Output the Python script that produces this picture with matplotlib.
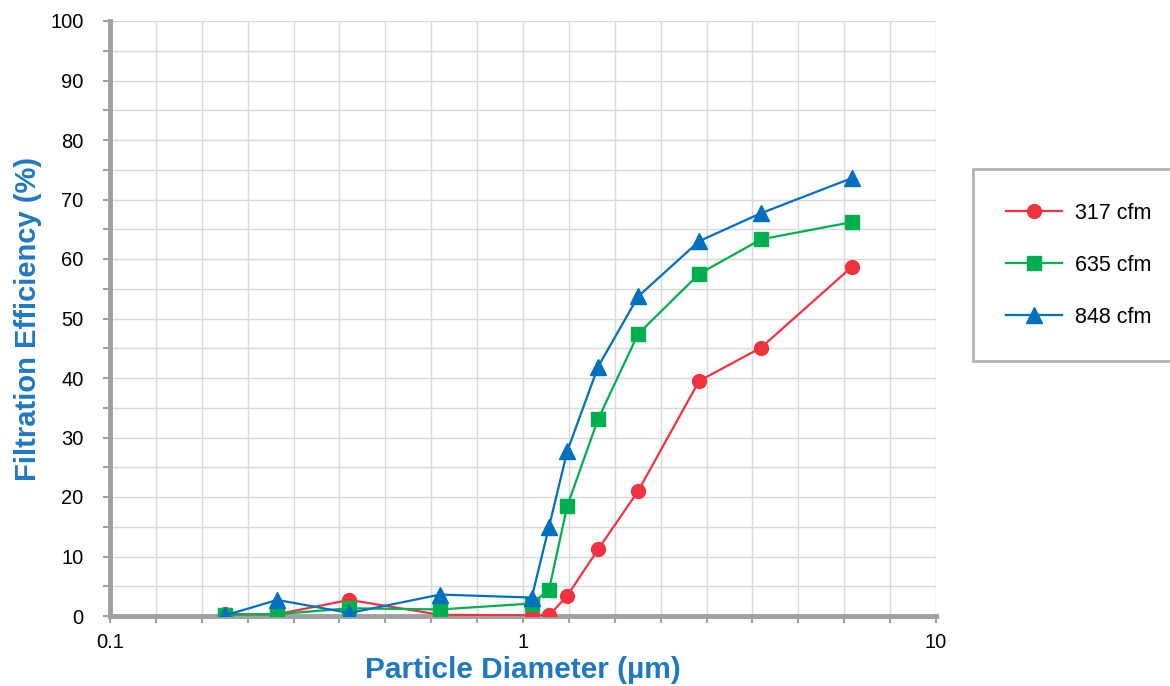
import matplotlib.pyplot as plt
from matplotlib.ticker import FixedLocator, NullFormatter, FixedFormatter

plt.rcParams['font.family'] = ['Liberation Sans', 'DejaVu Sans']

# particle diameter bins (um)
diameter = [0.19, 0.254, 0.38, 0.63, 1.05, 1.156, 1.28, 1.52, 1.90, 2.67, 3.77, 6.26]

# filtration efficiency (%) for each flow rate
eff_317 = [0.3, 0.3, 2.7, 0.2, 0.1, 0.1, 3.4, 11.2, 21.0, 39.5, 45.1, 58.7]
eff_635 = [0.2, 0.3, 1.3, 1.1, 2.1, 4.4, 18.5, 33.1, 47.4, 57.5, 63.3, 66.2]
eff_848 = [0.1, 2.7, 0.5, 3.6, 3.1, 15.0, 27.7, 41.9, 53.7, 63.0, 67.7, 73.6]

fig = plt.figure(figsize=(11.7, 6.86), dpi=100)
ax = fig.add_axes([110 / 1170, 70 / 686, 826 / 1170, 595 / 686])

ax.plot(diameter, eff_317, '-o', color='#F2333F', lw=1.6, ms=10, label='317 cfm', zorder=3)
ax.plot(diameter, eff_635, '-s', color='#00B050', lw=1.6, ms=10, label='635 cfm', zorder=3)
ax.plot(diameter, eff_848, '-^', color='#0070C0', lw=1.6, ms=11, label='848 cfm', zorder=4)

ax.set_xscale('log')
ax.set_xlim(0.1, 10)
ax.set_ylim(0, 100)

# minor gridlines evenly spaced in log space (9 per decade), like the original
minors = [10 ** (-1 + k / 9) for k in range(1, 18) if k != 9]
ax.xaxis.set_major_locator(FixedLocator([0.1, 1, 10]))
ax.xaxis.set_major_formatter(FixedFormatter(['0.1', '1', '10']))
ax.xaxis.set_minor_locator(FixedLocator(minors))
ax.xaxis.set_minor_formatter(NullFormatter())
ax.set_yticks(range(0, 101, 10))
ax.set_yticks(range(5, 100, 10), minor=True)

ax.grid(True, which='both', color='#D9D9D9', lw=1)
ax.set_axisbelow(True)
ax.tick_params(which='both', direction='out', color='#A0A0A0', width=1.5, length=5,
               labelsize=14.5)
ax.tick_params(axis='y', which='both', pad=14)
ax.tick_params(axis='x', which='both', pad=7)

for side in ('top', 'right'):
    ax.spines[side].set_visible(False)
for side in ('left', 'bottom'):
    ax.spines[side].set_color('#A0A0A0')
    ax.spines[side].set_linewidth(3.5)

ax.set_xlabel('Particle Diameter (µm)', fontsize=21.5, fontweight='bold', color='#1F78C1', labelpad=3)
ax.set_ylabel('Filtration Efficiency (%)', fontsize=21, fontweight='bold', color='#1F78C1', labelpad=6)

leg = fig.legend(loc='upper left', bbox_to_anchor=(973 / 1170, 510 / 686, 0.2, 0.01), mode='expand',
                 fontsize=15.5, frameon=True, fancybox=False, edgecolor='#A0A0A0',
                 labelspacing=1.45, borderpad=1.55, handlelength=2.6, handletextpad=0.6,
                 borderaxespad=0)
leg.get_frame().set_linewidth(2)

fig.savefig('out.png', dpi=100)
